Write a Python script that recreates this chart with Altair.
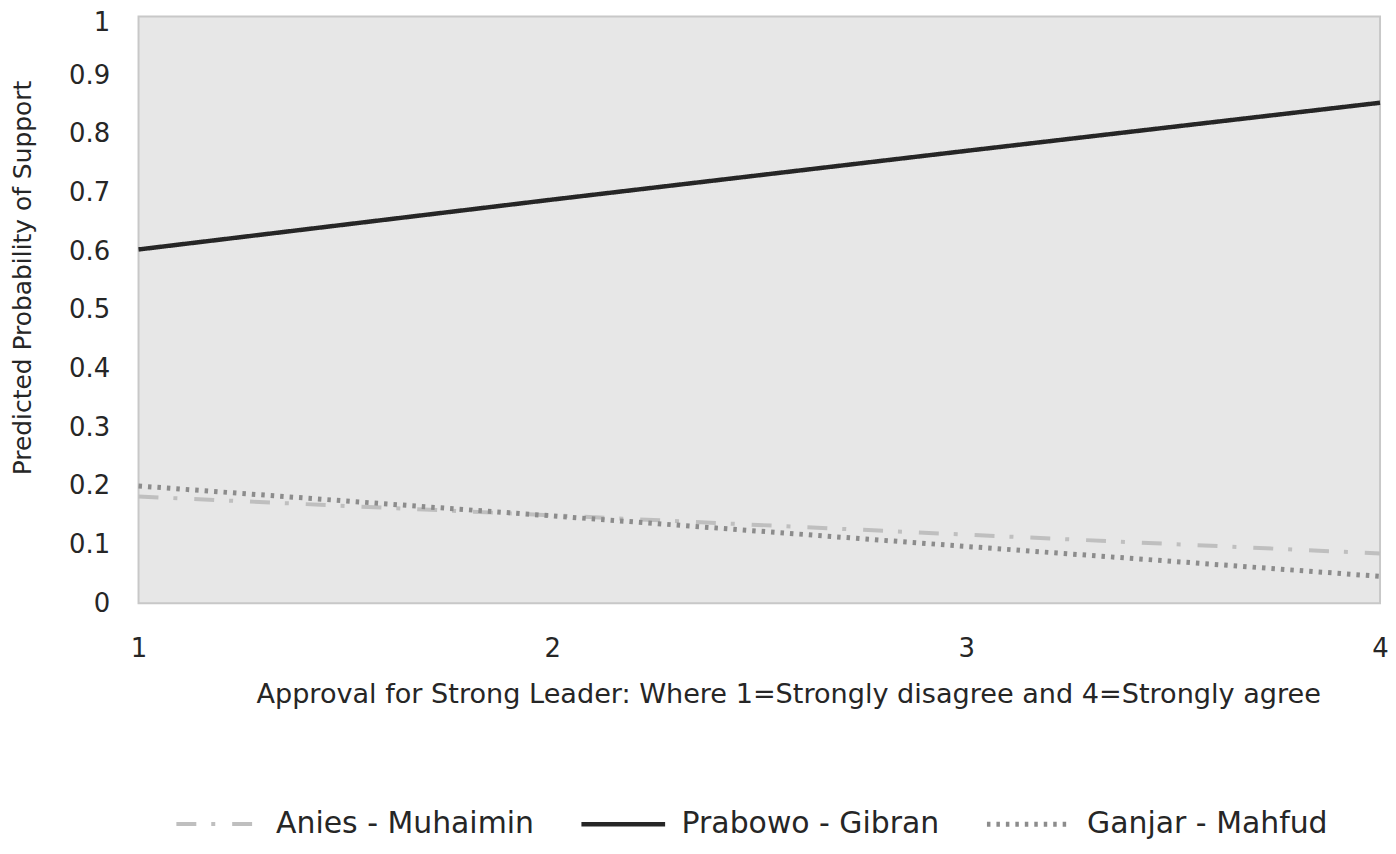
import altair as alt
import pandas as pd

x_vals = [1, 2, 3, 4]
anies = [0.182, 0.150, 0.117, 0.085]
prabowo = [0.603, 0.688, 0.771, 0.853]
ganjar = [0.200, 0.149, 0.097, 0.046]
series = ["Anies - Muhaimin", "Prabowo - Gibran", "Ganjar - Mahfud"]

rows = []
for name, vals in zip(series, [anies, prabowo, ganjar]):
    for xv, yv in zip(x_vals, vals):
        rows.append({"x": xv, "y": yv, "series": name})
df = pd.DataFrame(rows)

FONT = "DejaVu Sans"
TXT = "#262626"

chart = alt.Chart(df).mark_line(strokeCap="butt").encode(
    x=alt.X("x:Q", scale=alt.Scale(domain=[1, 4], nice=False),
            axis=alt.Axis(values=[1, 2, 3, 4], format="d", grid=False, ticks=False, domain=False,
                          labelFlush=False, labelPadding=32, labelFontSize=26, labelColor=TXT,
                          title="Approval for Strong Leader: Where 1=Strongly disagree and 4=Strongly agree",
                          titleFontSize=27.2, titleFontWeight="normal", titleColor=TXT,
                          titleX=652, titleY=92, titleBaseline="middle")),
    y=alt.Y("y:Q", scale=alt.Scale(domain=[0, 1], nice=False),
            axis=alt.Axis(values=[0, 0.1, 0.2, 0.3, 0.4, 0.5, 0.6, 0.7, 0.8, 0.9, 1.0], format=".1~f",
                          grid=False, ticks=False, domain=False, labelPadding=29,
                          labelFontSize=26, labelColor=TXT, labelFlush=False,
                          labelOffset={"condition": {"test": "datum.value === 1", "value": 6}, "value": 0},
                          title="Predicted Probability of Support", titleFontSize=25,
                          titleFontWeight="normal", titleColor=TXT,
                          titleX=-116, titleY=262, titleBaseline="middle")),
    color=alt.Color("series:N", sort=series,
                    scale=alt.Scale(domain=series, range=["#bfbfbf", "#262626", "#8c8c8c"]),
                    legend=alt.Legend(title=None, orient="none", direction="horizontal",
                                      legendX=36, legendY=766, symbolType="stroke",
                                      symbolSize=7056, symbolStrokeWidth=4,
                                      labelFontSize=30, labelColor=TXT, labelOffset=14,
                                      labelLimit=0, columnPadding=37)),
    strokeDash=alt.StrokeDash("series:N", sort=series,
                              scale=alt.Scale(domain=series, range=[[20, 15, 4, 17], [1, 0], [3.5, 6]]),
                              legend=None),
    strokeWidth=alt.StrokeWidth("series:N", sort=series,
                                scale=alt.Scale(domain=series, range=[4, 5, 3.5]), legend=None),
).properties(
    width=1246, height=589,
    autosize=alt.AutoSizeParams(type="none"),
    padding={"left": 131, "top": 7, "right": 8, "bottom": 236},
).configure(
    font=FONT, background="white",
    view=alt.ViewConfig(fill="#e7e7e7", stroke="#c8c8c8", strokeWidth=2),
)

chart.save("out.html", embed_options={"renderer": "svg", "actions": False})
